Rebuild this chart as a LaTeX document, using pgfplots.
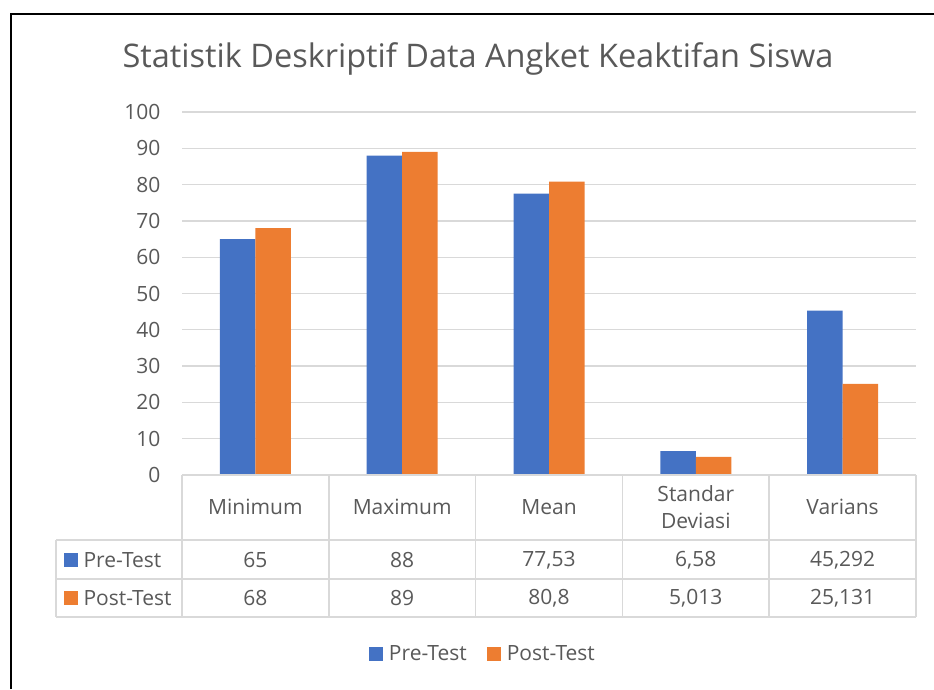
\documentclass[border=0pt]{standalone}
\usepackage{pgfplots}
\pgfplotsset{compat=1.18}
\usepackage{fontspec}
\setmainfont{Open Sans}
\definecolor{preblue}{HTML}{4472C4}
\definecolor{postorange}{HTML}{ED7D31}
\definecolor{txtgray}{HTML}{595959}
\definecolor{gridgray}{HTML}{D9D9D9}
\begin{document}
\begin{tikzpicture}
\useasboundingbox (0pt,0pt) rectangle (934pt,-689pt);
\begin{axis}[
  at={(182pt,-475pt)}, anchor=south west,
  width=734pt, height=363pt, scale only axis,
  xmin=-0.5, xmax=4.5, ymin=0, ymax=100,
  ybar=0pt, bar width=35.5pt,
  axis line style={draw=none},
  xtick=\empty,
  ytick={0,10,...,100},
  major tick length=0pt,
  ymajorgrids, grid style={color=gridgray, line width=1.3pt},
  /pgf/number format/assume math mode=true,
  tick label style={font=\fontsize{21}{25}\selectfont, text=txtgray},
  yticklabel style={xshift=-18pt},
  legend columns=2,
  legend style={draw=none, at={(0.41,-0.493)}, anchor=center, font=\fontsize{21}{25}\selectfont, text=txtgray,
    /tikz/every odd column/.append style={column sep=4pt},
    /tikz/every even column/.append style={column sep=18pt}},
  legend image code/.code={\fill[#1] (0pt,-7pt) rectangle (14pt,7pt);},
]
\addplot[fill=preblue, draw=none] coordinates {(0,65) (1,88) (2,77.53) (3,6.58) (4,45.292)};
\addplot[fill=postorange, draw=none] coordinates {(0,68) (1,89) (2,80.8) (3,5.013) (4,25.131)};
\legend{Pre-Test, Post-Test}
\end{axis}
\begin{scope}[x=1pt,y=1pt]
\draw[line width=2pt] (11,-689) -- (11,-14) -- (934,-14);
\node[text=txtgray, font=\fontsize{32.5}{38}\selectfont] at (478,-59) {Statistik Deskriptif Data Angket Keaktifan Siswa};
% data table
\begin{scope}[gridgray, line width=1.5pt]
\draw (182,-475) -- (916,-475);
\draw (56,-540) -- (916,-540);
\draw (56,-579) -- (916,-579);
\draw (56,-617) -- (916,-617);
\draw (56,-540) -- (56,-617);
\foreach \xx in {182,328.8,475.6,622.4,769.2,916} \draw (\xx,-475) -- (\xx,-617);
\end{scope}
\begin{scope}[every node/.style={text=txtgray, font=\fontsize{21}{25}\selectfont}]
\node at (255.4,-507) {Minimum};
\node at (402.2,-507) {Maximum};
\node at (549,-507) {Mean};
\node[align=center, font=\fontsize{21}{27}\selectfont] at (695.8,-507) {Standar\\Deviasi};
\node at (842.6,-507) {Varians};
\fill[preblue] (64,-553) rectangle (78,-567);
\node[anchor=west] at (80,-560) {Pre-Test};
\fill[postorange] (64,-591) rectangle (78,-605);
\node[anchor=west] at (80,-598) {Post-Test};
\node at (255.4,-560) {65};
\node at (402.2,-560) {88};
\node at (549,-560) {77,53};
\node at (695.8,-560) {6,58};
\node at (842.6,-560) {45,292};
\node at (255.4,-598) {68};
\node at (402.2,-598) {89};
\node at (549,-598) {80,8};
\node at (695.8,-598) {5,013};
\node at (842.6,-598) {25,131};
\end{scope}
\end{scope}
\end{tikzpicture}
\end{document}
